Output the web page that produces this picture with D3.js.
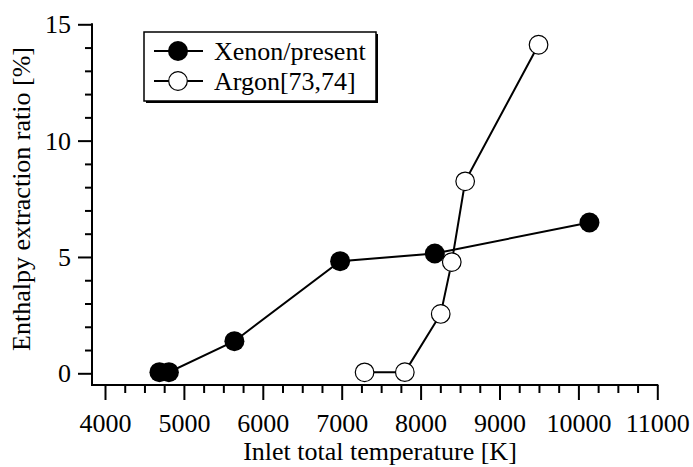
<!DOCTYPE html>
<html>
<head>
<meta charset="utf-8">
<script src="https://cdn.jsdelivr.net/npm/d3@7"></script>
<style>
  html, body { margin: 0; padding: 0; background: #fff; }
</style>
</head>
<body>
<svg id="chart" width="693" height="467"></svg>
<script>
// Inlet total temperature [K] and enthalpy extraction ratio [%]
const xenonTemp = [4690, 4810, 5640, 6980, 8180, 10140];
const xenonRatio = [0.05, 0.05, 1.38, 4.82, 5.15, 6.48];
const argonTemp = [7290, 7800, 8255, 8395, 8565, 9495];
const argonRatio = [0.04, 0.05, 2.55, 4.78, 8.25, 14.12];

const xMajorTicks = [4000, 5000, 6000, 7000, 8000, 9000, 10000, 11000];
const yMajorTicks = [0, 5, 10, 15];

const seriesNames = ["Xenon/present", "Argon[73,74]"];
const xTitle = "Inlet total temperature [K]";
const yTitle = "Enthalpy extraction ratio [%]";

const FONT = "Liberation Serif";
const FONT_SIZE = "26px";
const svg = d3.select("#chart");

const x = d3.scaleLinear().domain([4000, 11000]).range([105, 657.3]);
const y = d3.scaleLinear().domain([0, 15]).range([373.3, 24.3]);

const axisX0 = 92;     // left axis line position
const axisY0 = 385;    // bottom axis line position

const xMinor = d3.range(4000, 11001, 250).filter(v => v % 1000 !== 0);
const yMinor = d3.range(0, 16, 1).filter(v => v % 5 !== 0);

// Bottom axis: major ticks with labels
const gx = svg.append("g").attr("transform", `translate(0,${axisY0})`);
gx.call(d3.axisBottom(x).tickValues(xMajorTicks).tickSize(15).tickSizeOuter(0).tickFormat(d3.format("d")));
gx.select(".domain").remove();
gx.selectAll(".tick line").attr("stroke", "#000").attr("stroke-width", 2);
gx.selectAll(".tick text").attr("y", 0).attr("dy", "47px");

const gxm = svg.append("g").attr("transform", `translate(0,${axisY0})`);
gxm.call(d3.axisBottom(x).tickValues(xMinor).tickSize(8).tickFormat(""));
gxm.select(".domain").remove();
gxm.selectAll(".tick line").attr("stroke", "#000").attr("stroke-width", 2);

// Left axis
const gy = svg.append("g").attr("transform", `translate(${axisX0},0)`);
gy.call(d3.axisLeft(y).tickValues(yMajorTicks).tickSize(14).tickSizeOuter(0).tickFormat(d3.format("d")));
gy.select(".domain").remove();
gy.selectAll(".tick line").attr("stroke", "#000").attr("stroke-width", 2);
gy.selectAll(".tick text").attr("x", -21).attr("dy", "0.33em");

const gym = svg.append("g").attr("transform", `translate(${axisX0},0)`);
gym.call(d3.axisLeft(y).tickValues(yMinor).tickSize(7).tickFormat(""));
gym.select(".domain").remove();
gym.selectAll(".tick line").attr("stroke", "#000").attr("stroke-width", 2);

// Axis lines
svg.append("path")
  .attr("d", `M${axisX0},${y(15)}V${axisY0}H${x(11000)}`)
  .attr("fill", "none").attr("stroke", "#000").attr("stroke-width", 2)
  .attr("stroke-linecap", "square");

// Axis titles
svg.append("text")
  .attr("x", 380).attr("y", 460)
  .attr("text-anchor", "middle")
  .text(xTitle);

svg.append("text")
  .attr("transform", `translate(30,199) rotate(-90)`)
  .attr("text-anchor", "middle")
  .text(yTitle);

// Series
const line = d3.line().x(d => x(d[0])).y(d => y(d[1]));
const xenon = d3.zip(xenonTemp, xenonRatio);
const argon = d3.zip(argonTemp, argonRatio);

const plot = svg.append("g");
plot.append("path").datum(xenon).attr("d", line)
  .attr("fill", "none").attr("stroke", "#000").attr("stroke-width", 2);
plot.append("path").datum(argon).attr("d", line)
  .attr("fill", "none").attr("stroke", "#000").attr("stroke-width", 2);

plot.selectAll("circle.xe").data(xenon).join("circle").attr("class", "xe")
  .attr("cx", d => x(d[0])).attr("cy", d => y(d[1])).attr("r", 10)
  .attr("fill", "#000");
plot.selectAll("circle.ar").data(argon).join("circle").attr("class", "ar")
  .attr("cx", d => x(d[0])).attr("cy", d => y(d[1])).attr("r", 9.3)
  .attr("fill", "#fff").attr("stroke", "#000").attr("stroke-width", 1.2);

// Legend
const lg = svg.append("g");
const lgX = 144, lgY = 32, lgW = 232, lgH = 69;
lg.append("rect").attr("x", lgX + 2).attr("y", lgY + 2).attr("width", lgW).attr("height", lgH)
  .attr("fill", "#000");
lg.append("rect").attr("x", lgX).attr("y", lgY).attr("width", lgW).attr("height", lgH)
  .attr("fill", "#fff").attr("stroke", "#000").attr("stroke-width", 1.5);

const rows = [
  { name: seriesNames[0], fill: "#000", r: 10, sw: 0 },
  { name: seriesNames[1], fill: "#fff", r: 9.3, sw: 1.2 }
];
rows.forEach((row, i) => {
  const cy = 51 + i * 30;
  lg.append("line").attr("x1", 154).attr("x2", 203).attr("y1", cy).attr("y2", cy)
    .attr("stroke", "#000").attr("stroke-width", 2);
  lg.append("circle").attr("cx", 178).attr("cy", cy).attr("r", row.r)
    .attr("fill", row.fill).attr("stroke", "#000").attr("stroke-width", row.sw);
  lg.append("text").attr("x", 214).attr("y", cy).attr("dy", "0.33em")
    .text(row.name);
});

// All text in one serif face and size
svg.selectAll("text")
  .style("font-family", FONT)
  .style("font-size", FONT_SIZE)
  .attr("fill", "#000");
</script>
</body>
</html>
